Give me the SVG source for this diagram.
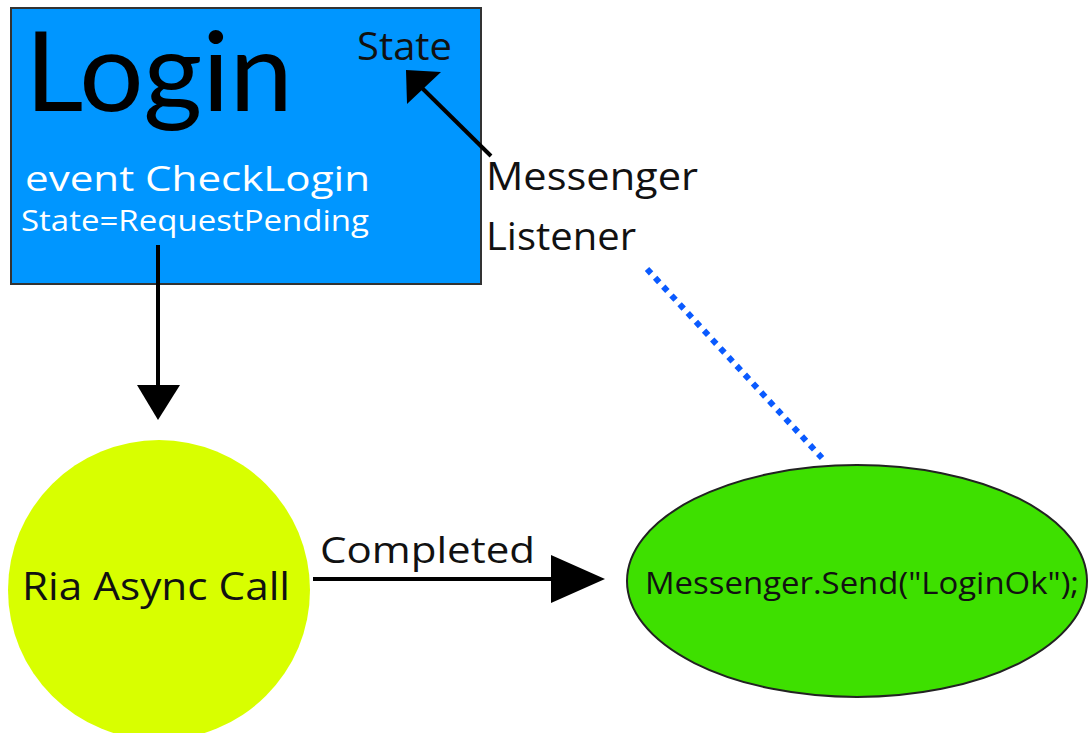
<svg xmlns="http://www.w3.org/2000/svg" width="1088" height="733" viewBox="0 0 1088 733">
<style>
text{font-family:"Open Sans","Noto Sans","Liberation Sans",sans-serif;}
.dark{fill:#111;}
.white{fill:#fff;}
.conn{stroke:#000;stroke-width:4;fill:none;}
</style>
<rect width="1088" height="733" fill="#fff"/>
<g id="login">
<rect x="11" y="8" width="470" height="276" fill="#0096ff" stroke="#333" stroke-width="2"/>
<text x="25" y="111" font-size="111" fill="#000" style="font-family:Lato,'Open Sans',sans-serif" textLength="268" lengthAdjust="spacingAndGlyphs">Login</text>
<text class="dark" x="357" y="60" font-size="38" textLength="95" lengthAdjust="spacingAndGlyphs">State</text>
<text class="white" x="25" y="191" font-size="35" textLength="345" lengthAdjust="spacingAndGlyphs">event CheckLogin</text>
<text class="white" x="21" y="231" font-size="29.5" textLength="348" lengthAdjust="spacingAndGlyphs">State=RequestPending</text>
</g>
<g id="listener-label">
<text class="dark" x="486" y="190" font-size="38" textLength="212" lengthAdjust="spacingAndGlyphs">Messenger</text>
<text class="dark" x="486" y="250" font-size="38" textLength="150" lengthAdjust="spacingAndGlyphs">Listener</text>
</g>
<g id="async">
<ellipse cx="159" cy="590" rx="151" ry="150" fill="#d8ff00"/>
<text class="dark" x="22" y="600" font-size="38" textLength="268" lengthAdjust="spacingAndGlyphs">Ria Async Call</text>
</g>
<g id="send">
<ellipse cx="857" cy="581" rx="230" ry="116" fill="#3ee000" stroke="#222" stroke-width="2"/>
<text class="dark" x="645" y="594" font-size="31" textLength="434" lengthAdjust="spacingAndGlyphs">Messenger.Send("LoginOk");</text>
</g>
<g id="connectors">
<line x1="491" y1="156" x2="420" y2="86" class="conn"/>
<polygon points="406,70 441,72 407,104" fill="#000"/>
<line x1="158" y1="245" x2="158" y2="386" class="conn"/>
<polygon points="137,385 180,385 158,420" fill="#000"/>
<line x1="313" y1="579" x2="552" y2="579" class="conn"/>
<polygon points="551,555 605,579 551,603" fill="#000"/>
<line x1="647" y1="269" x2="822" y2="458" stroke="#0a5aff" stroke-width="6" stroke-dasharray="6 6"/>
<text class="dark" x="320" y="563" font-size="36" textLength="215" lengthAdjust="spacingAndGlyphs">Completed</text>
</g>
</svg>
